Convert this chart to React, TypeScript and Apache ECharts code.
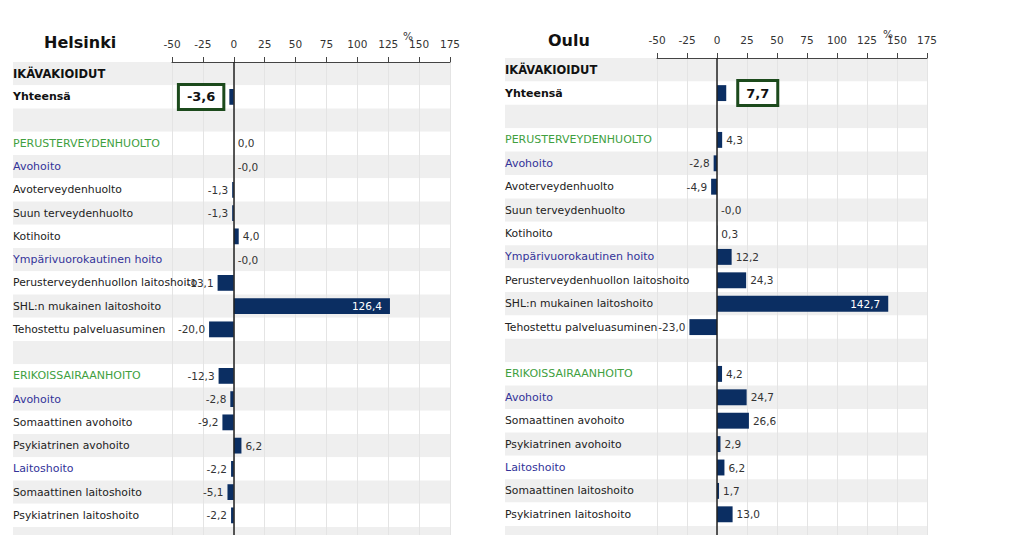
import React, { useEffect, useRef } from 'react';
import * as echarts from 'echarts';

const categories = [
  'IKÄVAKIOIDUT', 'Yhteensä', '', 'PERUSTERVEYDENHUOLTO', 'Avohoito',
  'Avoterveydenhuolto', 'Suun terveydenhuolto', 'Kotihoito', 'Ympärivuorokautinen hoito',
  'Perusterveydenhuollon laitoshoito', 'SHL:n mukainen laitoshoito', 'Tehostettu palveluasuminen',
  '', 'ERIKOISSAIRAANHOITO', 'Avohoito', 'Somaattinen avohoito', 'Psykiatrinen avohoito',
  'Laitoshoito', 'Somaattinen laitoshoito', 'Psykiatrinen laitoshoito', '',
];
const categoryKinds = [
  'head', 'total', 'blank', 'main', 'sub', 'item', 'item', 'item', 'sub', 'item', 'item', 'item',
  'blank', 'main', 'sub', 'item', 'item', 'sub', 'item', 'item', 'blank',
];
const helsinkiValues = [
  null, -3.6, null, 0.0, -0.02, -1.3, -1.3, 4.0, -0.02, -13.1, 126.4, -20.0,
  null, -12.3, -2.8, -9.2, 6.2, -2.2, -5.1, -2.2, null,
];
const ouluValues = [
  null, 7.7, null, 4.3, -2.8, -4.9, -0.02, 0.3, 12.2, 24.3, 142.7, -23.0,
  null, 4.2, 24.7, 26.6, 2.9, 6.2, 1.7, 13.0, null,
];
const axisMin = -50;
const axisMax = 175;
const axisInterval = 25;
const panelTitles = ['Helsinki', 'Oulu'];
const unitLabel = '%';

const FONT = 'DejaVu Sans';
const BAR = '#0b2e62';

const layouts = [
  { labelLeft: 13, left: 172, right: 450, top: 62, row: 23.25, titleX: 44, titleY: 34, pctX: 403, pctY: 30, totalDist: 7 },
  { labelLeft: 505, left: 657, right: 927, top: 58, row: 23.4, titleX: 548, titleY: 32, pctX: 883, pctY: 28, totalDist: 13 },
];

const fmt = (v: number) => v.toFixed(1).replace('.', ',');

function App() {
  const ref = useRef<HTMLDivElement>(null);
  useEffect(() => {
    if (!ref.current) return;
    const chart = echarts.init(ref.current, null, { renderer: 'svg' });
    const keys = categories.map((_, i) => String(i));
    const grids: any[] = [];
    const xAxes: any[] = [];
    const yAxes: any[] = [];
    const series: any[] = [];
    const titles: any[] = [];
    const graphics: any[] = [];
    const valueSets = [helsinkiValues, ouluValues];

    layouts.forEach((L, p) => {
      const height = L.row * categories.length;
      grids.push({ left: L.labelLeft, top: L.top, width: L.right - L.labelLeft, height, containLabel: false });
      grids.push({ left: L.left, top: L.top, width: L.right - L.left, height, containLabel: false });
      const gS = p * 2;
      const gM = p * 2 + 1;
      xAxes.push({ type: 'value', gridIndex: gS, show: false, min: 0, max: 1 });
      yAxes.push({
        type: 'category', gridIndex: gS, data: keys, inverse: true, z: 0,
        axisLine: { show: false }, axisTick: { show: false }, axisLabel: { show: false },
        splitLine: { show: false },
        splitArea: { show: true, interval: 0, areaStyle: { color: ['#efefef', '#ffffff'] } },
      });
      xAxes.push({
        type: 'value', gridIndex: gM, position: 'top', min: axisMin, max: axisMax, interval: axisInterval, z: 1,
        axisLine: { show: true, lineStyle: { color: '#444', width: 1 } },
        axisTick: { show: true, length: 5, lineStyle: { color: '#444' } },
        axisLabel: { color: '#333', fontSize: 10.5, fontFamily: FONT, margin: 13 },
        splitLine: { show: true, lineStyle: { color: '#e4e4e4', width: 1 } },
      });
      yAxes.push({
        type: 'category', gridIndex: gM, data: keys, inverse: true, z: 1,
        axisLine: { show: false }, axisTick: { show: false },
        splitLine: { show: false }, splitArea: { show: false },
        axisLabel: {
          interval: 0, align: 'left', margin: L.left - L.labelLeft,
          formatter: (v: string) => {
            const i = +v;
            const name = categories[i];
            if (!name) return '';
            const k = categoryKinds[i];
            return `{${k}|${name}}`;
          },
          rich: {
            head: { fontFamily: FONT, fontSize: 11.5, fontWeight: 'bold', color: '#111' },
            total: { fontFamily: FONT, fontSize: 11, fontWeight: 'bold', color: '#111' },
            main: { fontFamily: FONT, fontSize: 11, color: '#3f9f3f' },
            sub: { fontFamily: FONT, fontSize: 11, color: '#333399' },
            item: { fontFamily: FONT, fontSize: 10.8, color: '#222' },
          },
        },
      });
      const data = valueSets[p].map((v, i) => {
        if (v === null) return '-';
        const kind = categoryKinds[i];
        if (kind === 'total') {
          return {
            value: v,
            label: {
              show: true, position: v < 0 ? 'left' : 'right', distance: L.totalDist,
              formatter: () => fmt(v),
              fontFamily: FONT, fontSize: 13, fontWeight: 'bold', color: '#111',
              backgroundColor: '#ffffff', borderColor: '#1c4a1c', borderWidth: 3,
              padding: [5, 7, 4, 7],
            },
          };
        }
        const inside = v >= 100;
        return {
          value: v,
          label: {
            show: true,
            position: inside ? 'insideRight' : v < -0.5 ? 'left' : 'right',
            distance: inside ? 8 : 4,
            color: inside ? '#ffffff' : '#333',
            formatter: () => fmt(v),
            fontFamily: FONT, fontSize: 10.5,
          },
        };
      });
      series.push({
        type: 'bar', xAxisIndex: gM, yAxisIndex: gM, data, barWidth: '68%',
        itemStyle: { color: BAR }, z: 3,
        markLine: {
          silent: true, symbol: ['none', 'none'], label: { show: false },
          lineStyle: { color: '#222', width: 1.5, type: 'solid' },
          data: [{ xAxis: 0 }],
        },
      });
      titles.push({
        text: panelTitles[p], left: L.titleX, top: L.titleY, padding: 0,
        textStyle: { fontFamily: FONT, fontSize: 16, fontWeight: 'bold', color: '#111' },
      });
      graphics.push({
        type: 'text', left: L.pctX, top: L.pctY,
        style: { text: unitLabel, fontFamily: FONT, fontSize: 10.5, fill: '#333' },
      });
    });

    chart.setOption({
      animation: false,
      backgroundColor: '#ffffff',
      title: titles,
      grid: grids,
      xAxis: xAxes,
      yAxis: yAxes,
      series,
      graphic: graphics,
    });
    return () => chart.dispose();
  }, []);
  return <div ref={ref} style={{ position: 'fixed', left: 0, top: 0, width: 1024, height: 560 }} />;
}

export default App;
